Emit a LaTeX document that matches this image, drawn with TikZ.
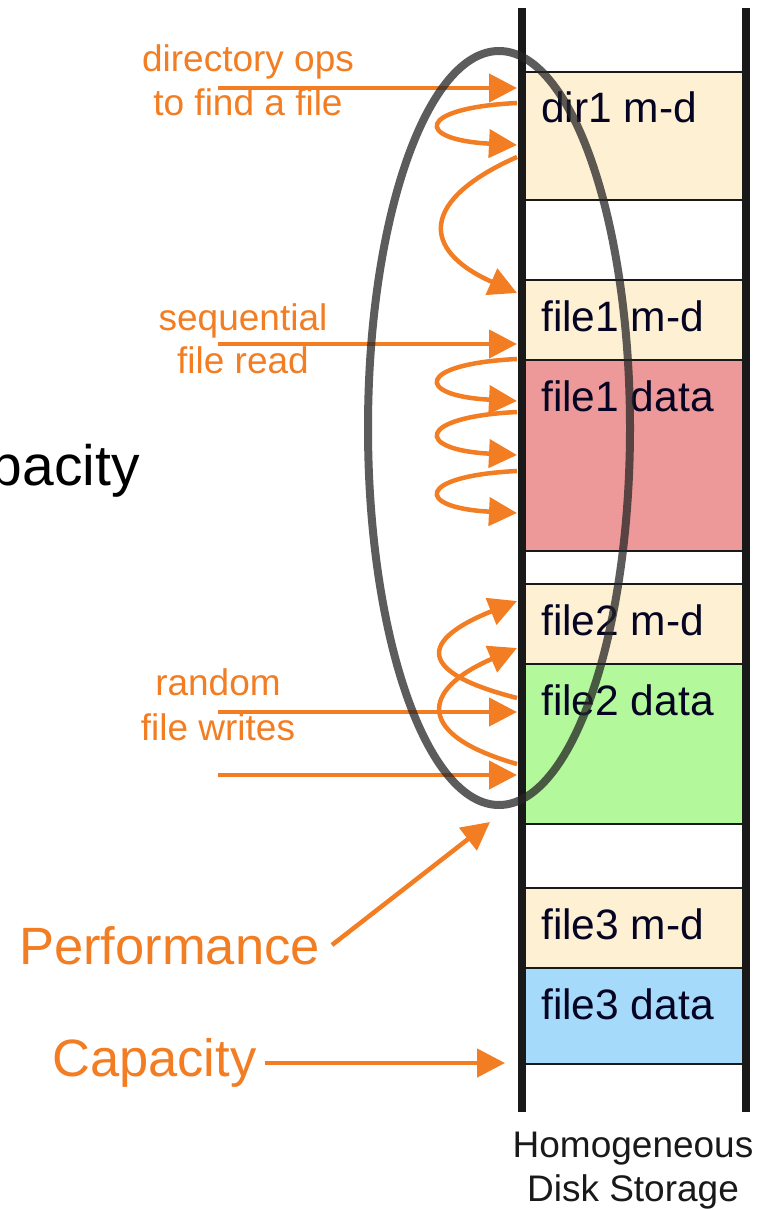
\documentclass[tikz,border=0pt]{standalone}
\usepackage{fontspec}
\setmainfont{Liberation Sans}
\usetikzlibrary{arrows.meta}
\definecolor{orng}{RGB}{242,125,34}
\definecolor{cream}{RGB}{254,240,211}
\definecolor{pinkdata}{RGB}{238,153,153}
\definecolor{greendata}{RGB}{179,249,156}
\definecolor{bluedata}{RGB}{166,218,250}
\definecolor{navytxt}{RGB}{5,5,35}
\definecolor{railc}{RGB}{25,25,25}
\tikzset{
  boxline/.style={draw=railc, line width=2.2pt},
  rail/.style={draw=railc, line width=8pt},
  boxtxt/.style={font=\fontsize{42.5}{50}\selectfont, text=navytxt, anchor=base west, inner sep=0pt},
  otxt/.style={font=\fontsize{37}{44}\selectfont, text=orng, anchor=base, inner sep=0pt},
  bigtxt/.style={font=\fontsize{52.5}{60}\selectfont, inner sep=0pt},
  oarrow/.style={draw=orng, line width=4.5pt, -{Triangle[length=28pt,width=28pt]}},
  ring/.style={draw=black!85, line width=8pt, opacity=0.75}
}
\begin{document}
\begin{tikzpicture}[x=1pt,y=-1pt]
\useasboundingbox (0,0) rectangle (765,1209);
% boxes
\draw[boxline, fill=cream] (522,72) rectangle (746,200);
\draw[boxline, fill=cream] (522,280) rectangle (746,360);
\draw[boxline, fill=pinkdata] (522,360) rectangle (746,551);
\draw[boxline, fill=cream] (522,584) rectangle (746,664);
\draw[boxline, fill=greendata] (522,664) rectangle (746,824);
\draw[boxline, fill=cream] (522,888) rectangle (746,968);
\draw[boxline, fill=bluedata] (522,968) rectangle (746,1064);
% box labels
\node[boxtxt] (t1) at (541,123) {dir1 m-d};
\node[boxtxt] (t2) at (541,331) {file1 m-d};
\node[boxtxt] (t3) at (541,411) {file1 data};
\node[boxtxt] (t4) at (541,635) {file2 m-d};
\node[boxtxt] (t5) at (541,715) {file2 data};
\node[boxtxt] (t6) at (541,939) {file3 m-d};
\node[boxtxt] (t7) at (541,1019) {file3 data};
% rails
\coordinate (lt) at (522,8); \coordinate (lb) at (522,1112);
\coordinate (rt) at (746,8); \coordinate (rb) at (746,1112);
\draw[rail] (lt) -- (lb);
\draw[rail] (rt) -- (rb);
% storage label
\node[font=\fontsize{37}{44}\selectfont, text=railc, anchor=base, inner sep=0pt] (h1) at (633,1157) {Homogeneous};
\node[font=\fontsize{37}{44}\selectfont, text=railc, anchor=base, inner sep=0pt] (h2) at (633,1201) {Disk Storage};
% orange labels
\node[otxt] (d1) at (248,72) {directory ops};
\node[otxt] (d2) at (248,116) {to find a file};
\node[otxt] (s1) at (243,330) {sequential};
\node[otxt] (s2) at (243,373) {file read};
\node[otxt] (r1) at (218,695) {random};
\node[otxt] (r2) at (218,740) {file writes};
\node[bigtxt, text=orng, anchor=base west] (perf) at (19,964) {Performance};
\node[bigtxt, text=orng, anchor=base west] (cap) at (52,1076) {Capacity};
\begin{scope}
\clip (0,0) rectangle (765,1209);
\node[font=\fontsize{57}{64}\selectfont, inner sep=0pt, text=black, anchor=base east] (capold) at (140,485) {Capacity};
\end{scope}
% arrow endpoints
\coordinate (a0s) at (218,88);  \coordinate (a0e) at (517,88);
\coordinate (a1s) at (517,103); \coordinate (a1e) at (517,145);
\coordinate (a2s) at (517,157); \coordinate (a2e) at (517,293);
\coordinate (b0s) at (218,344); \coordinate (b0e) at (517,344);
\coordinate (b1s) at (517,359); \coordinate (b1e) at (517,401);
\coordinate (b2s) at (517,412); \coordinate (b2e) at (517,455);
\coordinate (b3s) at (517,471); \coordinate (b3e) at (517,513);
\coordinate (c0s) at (218,712); \coordinate (c0e) at (517,712);
\coordinate (c1s) at (218,775); \coordinate (c1e) at (517,775);
\coordinate (c2s) at (517,698); \coordinate (c2e) at (517,601);
\coordinate (c3s) at (517,764); \coordinate (c3e) at (517,648);
\coordinate (ps) at (332,945);  \coordinate (pe) at (490,822);
\coordinate (cs) at (265,1063); \coordinate (ce) at (505,1063);
% arrows
\draw[oarrow] (a0s) -- (a0e);
\draw[oarrow] (a1s) .. controls (415,108) and (415,140) .. (a1e);
\draw[oarrow] (a2s) .. controls (420,200) and (420,250) .. (a2e);
\draw[oarrow] (b0s) -- (b0e);
\draw[oarrow] (b1s) .. controls (415,364) and (415,396) .. (b1e);
\draw[oarrow] (b2s) .. controls (415,417) and (415,450) .. (b2e);
\draw[oarrow] (b3s) .. controls (415,476) and (415,508) .. (b3e);
\draw[oarrow] (c0s) -- (c0e);
\draw[oarrow] (c1s) -- (c1e);
\draw[oarrow] (c2s) .. controls (415,672) and (420,640) .. (c2e);
\draw[oarrow] (c3s) .. controls (415,735) and (420,690) .. (c3e);
\draw[oarrow] (ps) -- (pe);
\draw[oarrow] (cs) -- (ce);
% ellipse
\draw[ring] (499,428) ellipse [x radius=131, y radius=377];
\end{tikzpicture}
\end{document}
